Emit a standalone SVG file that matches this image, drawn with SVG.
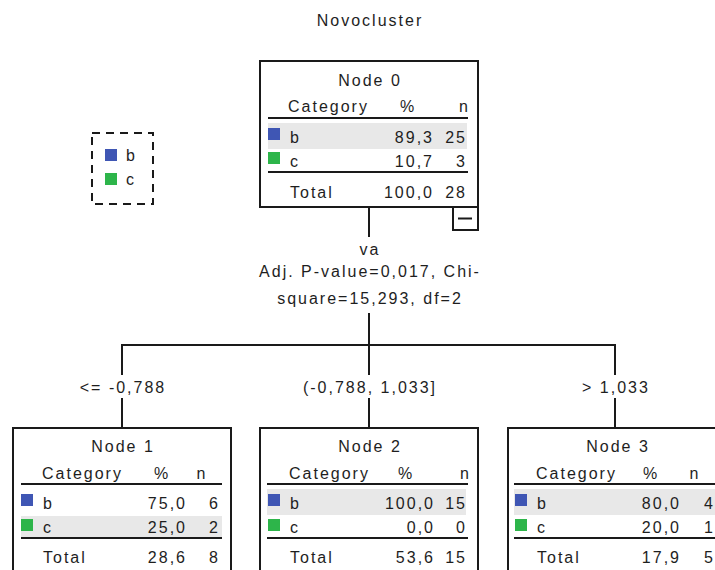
<svg xmlns="http://www.w3.org/2000/svg" width="715" height="570" viewBox="0 0 715 570">
<style>
text{font-family:"Liberation Sans",Arial,sans-serif;font-size:16px;letter-spacing:2px;fill:#1e1e1e}
.m{text-anchor:middle}
.e{text-anchor:end}
.box{fill:#fff;stroke:#1a1a1a;stroke-width:2}
.rule{stroke:#1a1a1a;stroke-width:2}
.hl{fill:#e8e8e8}
.blue{fill:#3f56b4}
.green{fill:#2db54a}
.conn line{stroke:#1a1a1a;stroke-width:2}
</style>
<rect width="715" height="570" fill="#fff"/>
<text class="m" x="370" y="26">Novocluster</text>

<g id="legend">
<rect x="92" y="133" width="61" height="71" fill="none" stroke="#1a1a1a" stroke-width="2" stroke-dasharray="8,6"/>
<rect class="blue" x="105" y="149" width="12" height="12"/>
<text x="126" y="161">b</text>
<rect class="green" x="105" y="173" width="12" height="12"/>
<text x="126" y="185">c</text>
</g>

<g class="conn" id="connectors">
<line x1="369" y1="207" x2="369" y2="237"/>
<line x1="369" y1="313" x2="369" y2="345"/>
<line x1="121" y1="345" x2="616" y2="345"/>
<line x1="122" y1="344" x2="122" y2="375"/>
<line x1="122" y1="398" x2="122" y2="428"/>
<line x1="369" y1="345" x2="369" y2="375"/>
<line x1="369" y1="398" x2="369" y2="428"/>
<line x1="615" y1="344" x2="615" y2="375"/>
<line x1="615" y1="398" x2="615" y2="428"/>
<text class="m" x="370" y="255">va</text>
<text class="m" x="370" y="277">Adj. P-value=0,017, Chi-</text>
<text class="m" x="370" y="304">square=15,293, df=2</text>
<text class="m" x="123" y="393">&lt;= -0,788</text>
<text class="m" x="370" y="393">(-0,788, 1,033]</text>
<text class="m" x="616" y="393">&gt; 1,033</text>
</g>

<g id="node0" transform="translate(260,61)">
<rect class="box" x="0" y="0" width="218" height="146"/>
<text class="m" x="110" y="25">Node 0</text>
<text x="28" y="51">Category</text>
<text class="m" x="148" y="51">%</text>
<text class="e" x="210" y="51">n</text>
<line class="rule" x1="8" y1="57" x2="208" y2="57"/>
<rect class="hl" x="8" y="62" width="199" height="26"/>
<rect class="blue" x="8" y="67" width="12" height="12"/>
<text x="30" y="82">b</text>
<text class="e" x="174" y="82">89,3</text>
<text class="e" x="207" y="82">25</text>
<rect class="green" x="8" y="91" width="12" height="12"/>
<text x="30" y="106">c</text>
<text class="e" x="174" y="106">10,7</text>
<text class="e" x="207" y="106">3</text>
<line class="rule" x1="8" y1="111" x2="208" y2="111"/>
<text x="30" y="137">Total</text>
<text class="e" x="174" y="137">100,0</text>
<text class="e" x="207" y="137">28</text>
<rect class="box" x="193" y="146" width="25" height="23"/>
<line class="rule" x1="198" y1="157.5" x2="212" y2="157.5"/>
</g>

<g id="node1" transform="translate(13,428)">
<rect class="box" x="0" y="0" width="218" height="160"/>
<text class="m" x="110" y="24">Node 1</text>
<text x="29" y="51">Category</text>
<text class="m" x="149" y="51">%</text>
<text class="m" x="189" y="51">n</text>
<line class="rule" x1="8" y1="56" x2="209" y2="56"/>
<rect class="hl" x="8" y="88" width="201" height="22"/>
<rect class="blue" x="8" y="66" width="12" height="12"/>
<text x="30" y="81">b</text>
<text class="e" x="174" y="81">75,0</text>
<text class="e" x="207" y="81">6</text>
<rect class="green" x="8" y="91" width="12" height="12"/>
<text x="30" y="105">c</text>
<text class="e" x="174" y="105">25,0</text>
<text class="e" x="207" y="105">2</text>
<line class="rule" x1="8" y1="110" x2="209" y2="110"/>
<text x="30" y="135">Total</text>
<text class="e" x="174" y="135">28,6</text>
<text class="e" x="207" y="135">8</text>
</g>

<g id="node2" transform="translate(260,428)">
<rect class="box" x="0" y="0" width="218" height="160"/>
<text class="m" x="110" y="24">Node 2</text>
<text x="29" y="51">Category</text>
<text class="m" x="146" y="51">%</text>
<text class="e" x="211" y="51">n</text>
<line class="rule" x1="7" y1="56" x2="208" y2="56"/>
<rect class="hl" x="7" y="61" width="199" height="26"/>
<rect class="blue" x="8" y="66" width="12" height="12"/>
<text x="30" y="81">b</text>
<text class="e" x="175" y="81">100,0</text>
<text class="e" x="207" y="81">15</text>
<rect class="green" x="8" y="91" width="12" height="12"/>
<text x="30" y="105">c</text>
<text class="e" x="175" y="105">0,0</text>
<text class="e" x="207" y="105">0</text>
<line class="rule" x1="7" y1="110" x2="208" y2="110"/>
<text x="30" y="135">Total</text>
<text class="e" x="175" y="135">53,6</text>
<text class="e" x="207" y="135">15</text>
</g>

<g id="node3" transform="translate(508,428)">
<rect class="box" x="0" y="0" width="218" height="160"/>
<text class="m" x="110" y="24">Node 3</text>
<text x="28" y="51">Category</text>
<text class="m" x="143" y="51">%</text>
<text class="m" x="187" y="51">n</text>
<line class="rule" x1="6" y1="56" x2="210" y2="56"/>
<rect class="hl" x="6" y="61" width="204" height="26"/>
<rect class="blue" x="7" y="66" width="12" height="12"/>
<text x="29" y="81">b</text>
<text class="e" x="173" y="81">80,0</text>
<text class="e" x="207" y="81">4</text>
<rect class="green" x="7" y="91" width="12" height="12"/>
<text x="29" y="105">c</text>
<text class="e" x="173" y="105">20,0</text>
<text class="e" x="207" y="105">1</text>
<line class="rule" x1="6" y1="110" x2="210" y2="110"/>
<text x="29" y="135">Total</text>
<text class="e" x="173" y="135">17,9</text>
<text class="e" x="207" y="135">5</text>
</g>
</svg>
